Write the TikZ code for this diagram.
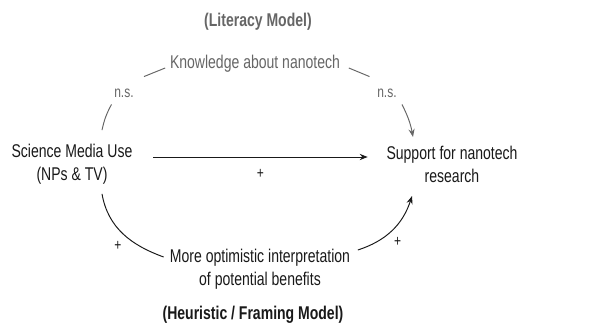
\documentclass[tikz,border=0pt]{standalone}
\usepackage{fontspec}
\setmainfont{Liberation Sans}[FakeStretch=0.76]
\usetikzlibrary{arrows.meta}
\definecolor{litgray}{gray}{0.4}
\definecolor{heurgray}{gray}{0.1}
\tikzset{
  var/.style={align=center,inner sep=2pt,font=\fontsize{10.5}{13}\selectfont},
  model/.style={font=\fontsize{10.5}{13}\selectfont\bfseries},
  sign/.style={inner sep=1pt,font=\fontsize{9}{11}\selectfont},
  link/.style={line width=0.55pt},
  arr/.style={link,-{Stealth[length=4.5pt,width=3.5pt]}}
}
\begin{document}
\begin{tikzpicture}[x=0.02cm,y=-0.02cm]
  \useasboundingbox (0,0) rectangle (600,331);

  \begin{scope}[litgray]
    \node[model] (lit) at (258,22) {(Literacy Model)};
    \node[var] (know) at (255,64) {Knowledge about nanotech};
    \node[sign] (nsl) at (124,93) {n.s.};
    \node[sign] (nsr) at (387,93) {n.s.};
  \end{scope}

  \begin{scope}[heurgray]
    \node[var] (sci) at (72,164) {Science Media Use\\(NPs \& TV)};
    \node[var] (sup) at (452,164) {Support for nanotech\\research};
    \node[var] (opt) at (260,269) {More optimistic interpretation\\of potential benefits};
    \node[model] (heu) at (253,315) {(Heuristic / Framing Model)};
  \end{scope}

  \draw[link,litgray] ([xshift=0.6cm,yshift=0.2cm]sci.north) to[bend left=8] ([xshift=-0.25cm,yshift=-0.1cm]nsl.south);
  \draw[link,litgray] ([xshift=0.4cm,yshift=0.2cm]nsl.north) -- ([xshift=-0.02cm,yshift=-0.08cm]know.west);
  \draw[link,litgray] ([xshift=0.1cm,yshift=-0.08cm]know.east) -- ([xshift=-0.35cm,yshift=0.2cm]nsr.north);
  \draw[arr,litgray] ([xshift=0.3cm,yshift=-0.1cm]nsr.south) to[bend left=8] ([xshift=-0.78cm,yshift=0.1cm]sup.north);

  \draw[arr,heurgray] ([xshift=0.34cm,yshift=0.14cm]sci.east) -- node[sign,below=0.2cm] (pmid) {+} ([xshift=-0.3cm,yshift=0.14cm]sup.west);

  \draw[link,heurgray] ([xshift=0.6cm,yshift=-0.12cm]sci.south) to[out=-80,in=160] node[sign,pos=0.55,below left=0.05cm] (pl) {+} ([xshift=-0.05cm,yshift=0.24cm]opt.west);
  \draw[arr,heurgray] ([xshift=0.08cm,yshift=0.38cm]opt.east) to[out=18,in=-108] node[sign,pos=0.45,below right=0.05cm] (pr) {+} ([xshift=-0.8cm,yshift=-0.2cm]sup.south);
\end{tikzpicture}
\end{document}
